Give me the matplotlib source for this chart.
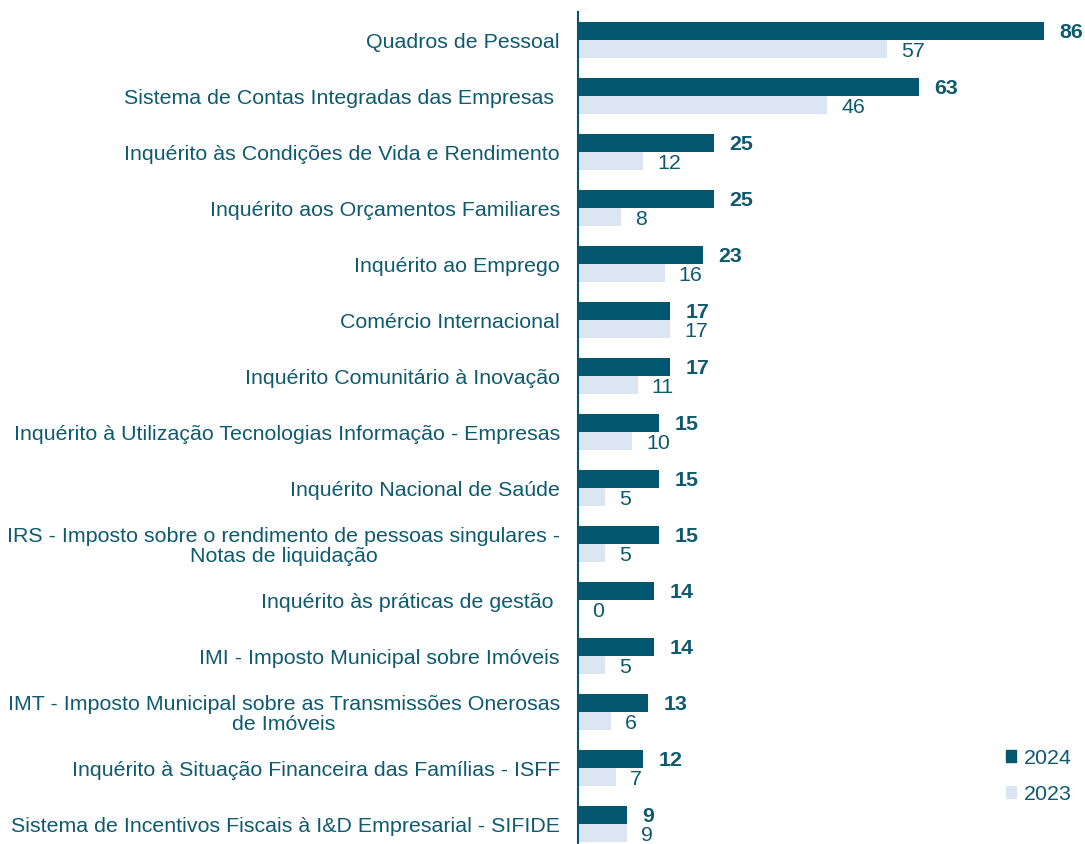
import matplotlib
matplotlib.use("Agg")
import matplotlib.pyplot as plt
import numpy as np
from matplotlib.patches import Patch

categories = [
    "Quadros de Pessoal",
    "Sistema de Contas Integradas das Empresas ",
    "Inquérito às Condições de Vida e Rendimento",
    "Inquérito aos Orçamentos Familiares",
    "Inquérito ao Emprego",
    "Comércio Internacional",
    "Inquérito Comunitário à Inovação",
    "Inquérito à Utilização Tecnologias Informação - Empresas",
    "Inquérito Nacional de Saúde",
    "IRS - Imposto sobre o rendimento de pessoas singulares -\nNotas de liquidação",
    "Inquérito às práticas de gestão ",
    "IMI - Imposto Municipal sobre Imóveis",
    "IMT - Imposto Municipal sobre as Transmissões Onerosas\nde Imóveis",
    "Inquérito à Situação Financeira das Famílias - ISFF",
    "Sistema de Incentivos Fiscais à I&D Empresarial - SIFIDE",
]
values_2024 = [86, 63, 25, 25, 23, 17, 17, 15, 15, 15, 14, 14, 13, 12, 9]
values_2023 = [57, 46, 12, 8, 16, 17, 11, 10, 5, 5, 0, 5, 6, 7, 9]

DARK = "#03566F"
LIGHT = "#DCE6F2"
TEXT = "#0E5A70"
FS = 15.4

plt.rcParams['font.family'] = ['Liberation Sans', 'DejaVu Sans']

fig = plt.figure(figsize=(10.85, 8.44), dpi=100)
W, H = 1085, 844
ax = fig.add_axes([578 / W, 0, 1 - 578 / W, 1 - 12 / H])

y = np.arange(len(categories))
h = 0.32
ax.barh(y - h / 2, values_2024, height=h, color=DARK, label="2024")
ax.barh(y + h / 2, values_2023, height=h, color=LIGHT, label="2023")

ax.set_xlim(0, (W - 578) / 5.42)
ax.set_ylim(len(categories) - 1 + 20 / 56, -0.5)

for yi, v in zip(y, values_2024):
    ax.annotate(str(v), (v, yi - h / 2), xytext=(11, -1), textcoords="offset points",
                ha="left", va="center", fontsize=FS, fontweight="bold", color=TEXT)
for yi, v in zip(y, values_2023):
    ax.annotate(str(v), (v, yi + h / 2), xytext=(10, -2), textcoords="offset points",
                ha="left", va="center", fontsize=FS, color=TEXT)

ax.set_yticks(y)
ax.set_yticklabels(categories, fontsize=FS, color=TEXT, multialignment="center",
                   linespacing=1.05)
ax.tick_params(axis="y", length=0, pad=13)
ax.set_xticks([])
for s in ["top", "right", "bottom"]:
    ax.spines[s].set_visible(False)
ax.spines["left"].set_color(DARK)
ax.spines["left"].set_linewidth(1.5)

handles = [Patch(color=DARK), Patch(color=LIGHT)]
leg = ax.legend(handles, ["2024", "2023"], loc="lower right", bbox_to_anchor=(1.012, 0.025),
                frameon=False, fontsize=FS, handlelength=0.5, handleheight=0.5,
                handletextpad=0.35, labelspacing=0.8, labelcolor=TEXT)

fig.savefig("out.png", dpi=100)
